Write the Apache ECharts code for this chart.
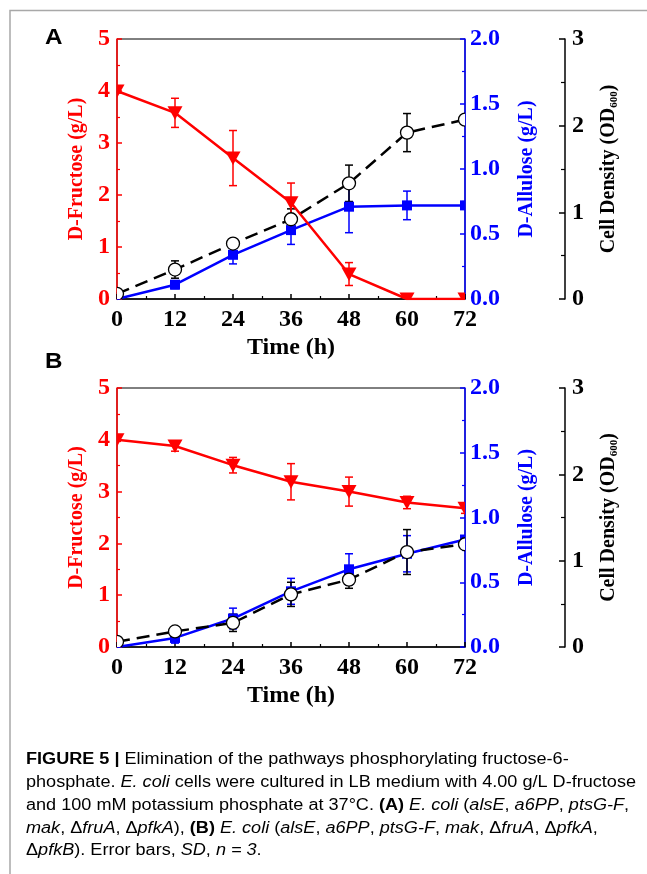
<!DOCTYPE html>
<html>
<head>
<meta charset="utf-8">
<script src="https://cdn.jsdelivr.net/npm/echarts@6/dist/echarts.min.js"></script>
<style>
html,body{margin:0;padding:0;background:#fff;}
#c{width:647px;height:874px;}
</style>
</head>
<body>
<div id="c"></div>
<script>
const times = [0, 12, 24, 36, 48, 60, 72];
// Panel A
const fructoseA = [4.0, 3.58, 2.71, 1.85, 0.48, 0, 0];
const fructoseErrA = [0.04, 0.28, 0.53, 0.38, 0.22, 0, 0];
const alluloseA = [0, 0.11, 0.34, 0.53, 0.71, 0.72, 0.72];
const alluloseErrA = [0, 0.03, 0.07, 0.11, 0.2, 0.11, 0];
const odA = [0.06, 0.34, 0.64, 0.92, 1.335, 1.92, 2.07];
const odErrA = [0.02, 0.1, 0.04, 0.12, 0.21, 0.22, 0.02];
// Panel B
const fructoseB = [4.0, 3.88, 3.51, 3.19, 3.0, 2.79, 2.68];
const fructoseErrB = [0.03, 0.1, 0.15, 0.35, 0.28, 0.12, 0.1];
const alluloseB = [0, 0.07, 0.22, 0.43, 0.6, 0.72, 0.83];
const alluloseErrB = [0, 0.04, 0.08, 0.1, 0.12, 0.14, 0.02];
const odB = [0.06, 0.18, 0.28, 0.61, 0.78, 1.10, 1.19];
const odErrB = [0.02, 0.03, 0.1, 0.14, 0.1, 0.26, 0.03];

const RED = '#ff0000', BLUE = '#0000ff', BLACK = '#000000';
const SERIF = '"Liberation Serif", "Times New Roman", serif';
const SANS = '"Liberation Sans", Arial, sans-serif';

const chart = echarts.init(document.getElementById('c'), null, {renderer: 'canvas'});

const grids = [
  {left: 117, top: 39, width: 348, height: 260},
  {left: 117, top: 388, width: 348, height: 259}
];

function pairs(ys) { return times.map((t, i) => [t, ys[i]]); }
function errData(ys, es) { return times.map((t, i) => [t, ys[i], es[i]]); }

function errSeries(gi, yi, ys, es, color, z) {
  return {
    type: 'custom', xAxisIndex: gi, yAxisIndex: yi, z: z, silent: true, clip: true,
    data: errData(ys, es), encode: {x: 0, y: 1},
    renderItem: function (params, api) {
      const x = api.value(0), y = api.value(1), e = api.value(2);
      if (!e) return null;
      const top = api.coord([x, y + e]);
      const bot = api.coord([x, y - e]);
      const w = 4;
      const st = {stroke: color, lineWidth: 1.5};
      return {type: 'group', children: [
        {type: 'line', shape: {x1: top[0], y1: top[1], x2: bot[0], y2: bot[1]}, style: st},
        {type: 'line', shape: {x1: top[0] - w, y1: top[1], x2: top[0] + w, y2: top[1]}, style: st},
        {type: 'line', shape: {x1: bot[0] - w, y1: bot[1], x2: bot[0] + w, y2: bot[1]}, style: st}
      ]};
    }
  };
}

function markerSeries(gi, yi, ys, kind, z) {
  return {
    type: 'custom', xAxisIndex: gi, yAxisIndex: yi, z: z, silent: true, clip: true,
    data: pairs(ys), encode: {x: 0, y: 1},
    renderItem: function (params, api) {
      const c = api.coord([api.value(0), api.value(1)]);
      if (kind === 'tri') {
        return {type: 'polygon', shape: {points: [[c[0] - 7.5, c[1] - 6.5], [c[0] + 7.5, c[1] - 6.5], [c[0], c[1] + 7]]}, style: {fill: RED}};
      } else if (kind === 'sq') {
        return {type: 'rect', shape: {x: c[0] - 5, y: c[1] - 5, width: 10, height: 10}, style: {fill: BLUE}};
      }
      return {type: 'circle', shape: {cx: c[0], cy: c[1], r: 6.5}, style: {fill: '#fff', stroke: BLACK, lineWidth: 1.3}};
    }
  };
}

const xAxes = [], yAxes = [], series = [];
const tickLabel = (color) => ({color: color, fontFamily: SERIF, fontWeight: 'bold', fontSize: 24});

[0, 1].forEach(function (gi) {
  xAxes.push({
    type: 'value', gridIndex: gi, min: 0, max: 72, interval: 12,
    name: 'Time (h)', nameLocation: 'middle', nameGap: 37,
    nameTextStyle: {color: BLACK, fontFamily: SERIF, fontWeight: 'bold', fontSize: 24},
    axisLine: {show: true, onZero: false, lineStyle: {color: BLACK, width: 1.5}},
    axisTick: {show: true, inside: true, length: 5, lineStyle: {width: 1.5}},
    minorTick: {show: true, splitNumber: 2, length: 3, lineStyle: {color: BLACK, width: 1.2}},
    splitLine: {show: false},
    axisLabel: Object.assign(tickLabel(BLACK), {margin: 9})
  });
  yAxes.push({
    type: 'value', gridIndex: gi, position: 'left', min: 0, max: 5, interval: 1,
    name: 'D-Fructose (g/L)', nameLocation: 'middle', nameRotate: 90, nameGap: 30,
    nameTextStyle: {color: RED, fontFamily: SERIF, fontWeight: 'bold', fontSize: 20},
    axisLine: {show: true, onZero: false, lineStyle: {color: RED, width: 1.5}},
    axisTick: {show: true, inside: true, length: 5, lineStyle: {color: RED, width: 1.5}},
    minorTick: {show: true, splitNumber: 2, length: 3, lineStyle: {color: RED, width: 1.2}},
    splitLine: {show: false},
    axisLabel: Object.assign(tickLabel(RED), {margin: 7})
  });
  yAxes.push({
    type: 'value', gridIndex: gi, position: 'right', min: 0, max: 2, interval: 0.5,
    name: 'D-Allulose (g/L)', nameLocation: 'middle', nameRotate: 90, nameGap: 52,
    nameTextStyle: {color: BLUE, fontFamily: SERIF, fontWeight: 'bold', fontSize: 20},
    axisLine: {show: true, onZero: false, lineStyle: {color: BLUE, width: 1.5}},
    axisTick: {show: true, inside: true, length: 5, lineStyle: {color: BLUE, width: 1.5}},
    minorTick: {show: true, splitNumber: 2, length: 3, lineStyle: {color: BLUE, width: 1.2}},
    splitLine: {show: false},
    axisLabel: Object.assign(tickLabel(BLUE), {margin: 5, formatter: v => v.toFixed(1)})
  });
  yAxes.push({
    type: 'value', gridIndex: gi, position: 'right', offset: 100, min: 0, max: 3, interval: 1,
    name: '{a|Cell Density (OD}{s|600}{a|)}', nameLocation: 'middle', nameRotate: 90, nameGap: 32,
    nameTextStyle: {color: BLACK, fontFamily: SERIF, fontWeight: 'bold', fontSize: 20,
      rich: {
        a: {color: BLACK, fontFamily: SERIF, fontWeight: 'bold', fontSize: 20},
        s: {color: BLACK, fontFamily: SERIF, fontWeight: 'bold', fontSize: 11, padding: [12, 0, 0, 0]}
      }},
    axisLine: {show: true, onZero: false, lineStyle: {color: BLACK, width: 1.5}},
    axisTick: {show: true, inside: true, length: 6, lineStyle: {color: BLACK, width: 1.5}},
    minorTick: {show: true, splitNumber: 2, length: 4, lineStyle: {color: BLACK, width: 1.2}},
    splitLine: {show: false},
    axisLabel: Object.assign(tickLabel(BLACK), {margin: 7})
  });
});

const panels = [
  {f: fructoseA, fe: fructoseErrA, a: alluloseA, ae: alluloseErrA, o: odA, oe: odErrA},
  {f: fructoseB, fe: fructoseErrB, a: alluloseB, ae: alluloseErrB, o: odB, oe: odErrB}
];
panels.forEach(function (p, gi) {
  const yb = gi * 3;
  series.push(errSeries(gi, yb + 1, p.a, p.ae, BLUE, 1));
  series.push(errSeries(gi, yb + 2, p.o, p.oe, BLACK, 1));
  series.push(errSeries(gi, yb, p.f, p.fe, RED, 1));
  series.push({
    type: 'line', xAxisIndex: gi, yAxisIndex: yb + 1, data: pairs(p.a), z: 2, clip: true,
    symbol: 'none', lineStyle: {color: BLUE, width: 2.5}, animation: false
  });
  series.push(markerSeries(gi, yb + 1, p.a, 'sq', 3));
  series.push({
    type: 'line', xAxisIndex: gi, yAxisIndex: yb + 2, data: pairs(p.o), z: 4, clip: true,
    symbol: 'none', lineStyle: {color: BLACK, width: 2.5, type: [13, 7]}, animation: false
  });
  series.push(markerSeries(gi, yb + 2, p.o, 'circ', 5));
  series.push({
    type: 'line', xAxisIndex: gi, yAxisIndex: yb, data: pairs(p.f), z: 6, clip: true,
    symbol: 'none', lineStyle: {color: RED, width: 2.5}, animation: false
  });
  series.push(markerSeries(gi, yb, p.f, 'tri', 7));
});

const captionRich = {
  b: {fontFamily: SANS, fontWeight: 'bold', fontSize: 16, color: '#222'},
  i: {fontFamily: SANS, fontStyle: 'italic', fontSize: 16, color: '#444'},
  n: {fontFamily: SANS, fontSize: 16, color: '#444'}
};
const captionLines = [
  '{b|FIGURE 5 |} {n|Elimination of the pathways phosphorylating fructose-6-}',
  '{n|phosphate. }{i|E. coli}{n| cells were cultured in LB medium with 4.00 g/L D-fructose}',
  '{n|and 100 mM potassium phosphate at 37°C. }{b|(A)}{n| }{i|E. coli}{n| (}{i|alsE}{n|, }{i|a6PP}{n|, }{i|ptsG-F}{n|,}',
  '{i|mak}{n|, Δ}{i|fruA}{n|, Δ}{i|pfkA}{n|), }{b|(B)}{n| }{i|E. coli}{n| (}{i|alsE}{n|, }{i|a6PP}{n|, }{i|ptsG-F}{n|, }{i|mak}{n|, Δ}{i|fruA}{n|, Δ}{i|pfkA}{n|,}',
  '{n|Δ}{i|pfkB}{n|). Error bars, }{i|SD}{n|, }{i|n = 3}{n|.}'
];
const captionY = [760, 783, 806, 828.5, 851];

const graphics = [
  {type: 'polyline', shape: {points: [[10, 874], [10, 10.5], [647, 10.5]]}, style: {stroke: '#a8a8a8', lineWidth: 1.5, fill: null}},
  {type: 'text', x: 45, y: 27, scaleX: 1.1, style: {text: 'A', font: 'bold 22px ' + SANS, fill: '#000'}},
  {type: 'text', x: 45, y: 351, scaleX: 1.1, style: {text: 'B', font: 'bold 22px ' + SANS, fill: '#000'}}
];
captionLines.forEach(function (t, i) {
  graphics.push({type: 'text', x: 26, y: captionY[i], scaleX: 1.13, style: {text: t, rich: captionRich, verticalAlign: 'middle', textAlign: 'left', fontSize: 16, fontFamily: SANS}});
});

chart.setOption({
  backgroundColor: '#fff',
  animation: false,
  grid: grids.map(g => Object.assign({show: true, borderColor: '#000', borderWidth: 1, backgroundColor: 'transparent'}, g)),
  xAxis: xAxes,
  yAxis: yAxes,
  series: series,
  graphic: graphics
});
</script>
</body>
</html>
